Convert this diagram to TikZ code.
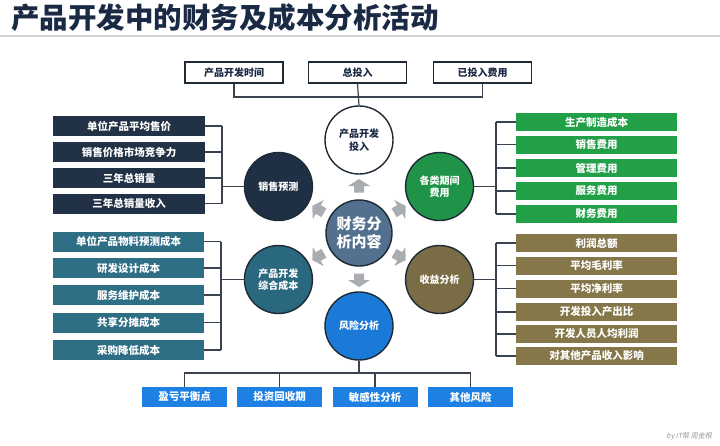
\documentclass[tikz,border=0pt]{standalone}
\usepackage{fontspec}
\setmainfont{Noto Sans CJK SC}
\newfontfamily\slfont{Noto Sans CJK SC}[FakeSlant=0.2]
\usetikzlibrary{calc}
\definecolor{titlec}{HTML}{1B2A44}
\definecolor{navy}{HTML}{223246}
\definecolor{navyc}{HTML}{1F3044}
\definecolor{tealb}{HTML}{2E6F86}
\definecolor{tealc}{HTML}{2A6880}
\definecolor{greenb}{HTML}{22A048}
\definecolor{greenc}{HTML}{1F9448}
\definecolor{oliveb}{HTML}{857749}
\definecolor{olivec}{HTML}{7A6C44}
\definecolor{blueb}{HTML}{1E80E2}
\definecolor{bluec}{HTML}{1B7AD8}
\definecolor{centerc}{HTML}{53718E}
\definecolor{arrowc}{HTML}{A9ADB2}
\definecolor{linec}{HTML}{3A4450}
\definecolor{rimc}{HTML}{1E2A36}
\tikzset{
  boxtext/.style={inner sep=0pt, font=\bfseries\fontsize{10.5}{12}\selectfont, text=white},
  navybox/.style={boxtext, fill=navy, minimum width=152pt, minimum height=20pt},
  tealbox/.style={boxtext, fill=tealb, minimum width=151pt, minimum height=20pt},
  greenbox/.style={boxtext, fill=greenb, minimum width=161pt, minimum height=18pt},
  olivebox/.style={boxtext, fill=oliveb, minimum width=161pt, minimum height=18pt},
  bluebox/.style={boxtext, fill=blueb, minimum width=85pt, minimum height=20pt},
  topbox/.style={inner sep=0pt, font=\bfseries\fontsize{10}{12}\selectfont, text=titlec, fill=white, draw=rimc, line width=1.3pt, minimum width=98pt, minimum height=21pt},
  bub/.style={circle, minimum size=68pt, inner sep=0pt, draw=rimc, line width=1.4pt, align=center, font=\bfseries\fontsize{10}{12.5}\selectfont, text=white},
  conn/.style={draw=linec, line width=1.2pt}
}
\begin{document}
\begin{tikzpicture}[x=1pt,y=-1pt]
\fill[white] (0,0) rectangle (720,445);
\useasboundingbox (0,0) rectangle (720,445);
% title
\node[anchor=west, inner sep=0pt, font=\bfseries\fontsize{28.5}{31}\selectfont, text=titlec] (title) at (11,18) {产品开发中的财务及成本分析活动};
\coordinate (tl) at (0,36);
\coordinate (tr) at (720,36);
\draw[gray!35, line width=1.5pt] (tl) -- (tr);

% center and bubbles
\node[bub, fill=centerc, minimum size=66pt, font=\bfseries\fontsize{15}{18}\selectfont] (c) at (359,233) {财务分\\析内容};
\node[bub, fill=white, text=titlec] (inv) at ($(c)+(90:93pt)$) {产品开发\\投入};
\node[bub, fill=navyc] (sales) at ($(c)+(150:93pt)$) {销售预测};
\node[bub, fill=greenc] (period) at ($(c)+(30:93pt)$) {各类期间\\费用};
\node[bub, fill=tealc] (cost) at ($(c)+(210:93pt)$) {产品开发\\综合成本};
\node[bub, fill=olivec] (income) at ($(c)+(330:93pt)$) {收益分析};
\node[bub, fill=bluec] (risk) at ($(c)+(270:93pt)$) {风险分析};

% gray block arrows
\foreach \a in {90,150,30,210,330,270}{
  \begin{scope}[shift={($(c)+(\a:47pt)$)}, rotate=\a]
    \fill[arrowc] (-6.5,-5) -- (0,-5) -- (0,-11) -- (7,0) -- (0,11) -- (0,5) -- (-6.5,5) -- cycle;
  \end{scope}
}

% top boxes
\node[topbox] (t1) at (234,72.5) {产品开发时间};
\node[topbox] (t2) at (357.5,72.5) {总投入};
\node[topbox] (t3) at (482.5,72.5) {已投入费用};
\coordinate (ty) at (0,97);
\draw[conn] (t1.south) -- (t1.south |- ty) -- (t3.south |- ty) -- (t3.south);
\draw[conn] (t2.south) -- (inv.north);

% left navy boxes
\node[navybox] (s1) at (129,126) {单位产品平均售价};
\node[navybox] (s2) at (129,152) {销售价格市场竞争力};
\node[navybox] (s3) at (129,178) {三年总销量};
\node[navybox] (s4) at (129,203.5) {三年总销量收入};
\coordinate (lx) at (222,0);
\foreach \n in {s1,s2,s3,s4}{\draw[conn] (\n.east) -- (\n.east -| lx);}
\draw[conn] (s1.east -| lx) -- (s4.east -| lx);
\draw[conn] (sales.west) -- (sales.west -| lx);

% left teal boxes
\node[tealbox] (k1) at (128.5,241.5) {单位产品物料预测成本};
\node[tealbox] (k2) at (128.5,268) {研发设计成本};
\node[tealbox] (k3) at (128.5,295) {服务维护成本};
\node[tealbox] (k4) at (128.5,322.5) {共享分摊成本};
\node[tealbox] (k5) at (128.5,350) {采购降低成本};
\coordinate (lx2) at (221,0);
\foreach \n in {k1,k2,k3,k4,k5}{\draw[conn] (\n.east) -- (\n.east -| lx2);}
\draw[conn] (k1.east -| lx2) -- (k5.east -| lx2);
\draw[conn] (cost.west) -- (cost.west -| lx2);

% right green boxes
\node[greenbox] (g1) at (596.5,122) {生产制造成本};
\node[greenbox] (g2) at (596.5,144.5) {销售费用};
\node[greenbox] (g3) at (596.5,168) {管理费用};
\node[greenbox] (g4) at (596.5,191) {服务费用};
\node[greenbox] (g5) at (596.5,214) {财务费用};
\coordinate (rx) at (496,0);
\foreach \n in {g1,g2,g3,g4,g5}{\draw[conn] (\n.west) -- (\n.west -| rx);}
\draw[conn] (g1.west -| rx) -- (g5.west -| rx);
\draw[conn] (period.east) -- (period.east -| rx);

% right olive boxes
\node[olivebox] (o1) at (596.5,243) {利润总额};
\node[olivebox] (o2) at (596.5,265.5) {平均毛利率};
\node[olivebox] (o3) at (596.5,288.5) {平均净利率};
\node[olivebox] (o4) at (596.5,312) {开发投入产出比};
\node[olivebox] (o5) at (596.5,334) {开发人员人均利润};
\node[olivebox] (o6) at (596.5,356) {对其他产品收入影响};
\foreach \n in {o1,o2,o3,o4,o5,o6}{\draw[conn] (\n.west) -- (\n.west -| rx);}
\draw[conn] (o1.west -| rx) -- (o6.west -| rx);
\draw[conn] (income.east) -- (income.east -| rx);

% bottom blue boxes
\node[bluebox] (b1) at (184.5,397) {盈亏平衡点};
\node[bluebox] (b2) at (279.5,397) {投资回收期};
\node[bluebox] (b3) at (375,397) {敏感性分析};
\node[bluebox] (b4) at (470.5,397) {其他风险};
\coordinate (by) at (0,373);
\draw[conn] (b1.north) -- (b1.north |- by) -- (b4.north |- by) -- (b4.north);
\draw[conn] (b2.north) -- (b2.north |- by);
\draw[conn] (b3.north) -- (b3.north |- by);
\draw[conn] (risk.south) -- (risk.south |- by);

% footer
\node[anchor=east, inner sep=0pt, font=\slfont\fontsize{7}{8}\selectfont, text=gray!80] (foot) at (712,436) {by IT帮 周金根};
\end{tikzpicture}
\end{document}
